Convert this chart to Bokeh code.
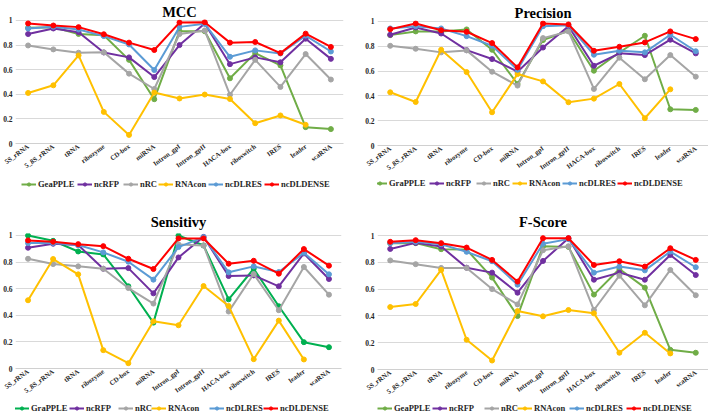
from bokeh.plotting import figure
from bokeh.models import FactorRange, Range1d, FixedTicker, Legend, LegendItem
from bokeh.layouts import column, row
from bokeh.embed import file_html
from bokeh.resources import INLINE

categories = ["5S_rRNA", "5_8S_rRNA", "tRNA", "ribozyme", "CD-box", "miRNA",
              "Intron_gpI", "Intron_gpII", "HACA-box", "riboswitch", "IRES",
              "leader", "scaRNA"]
y_ticks = [0, 0.2, 0.4, 0.6, 0.8, 1]
y_tick_labels = ["0", "0.2", "0.4", "0.6", "0.8", "1"]

# ---- MCC ----
mcc_names = ["GeaPPLE", "ncRFP", "nRC", "RNAcon", "ncDLRES", "ncDLDENSE"]
mcc_geapple = [0.94, 0.945, 0.89, 0.88, 0.68, 0.36, 0.913, 0.913, 0.53, 0.735, 0.635, 0.133, 0.117]
mcc_ncrfp = [0.89, 0.935, 0.905, 0.74, 0.70, 0.54, 0.80, 0.975, 0.645, 0.70, 0.66, 0.852, 0.688]
mcc_nrc = [0.797, 0.765, 0.738, 0.741, 0.568, 0.443, 0.89, 0.919, 0.396, 0.68, 0.46, 0.727, 0.52]
mcc_rnacon = [0.411, 0.473, 0.716, 0.257, 0.07, 0.414, 0.366, 0.398, 0.362, 0.165, 0.228, 0.152]
mcc_ncdlres = [0.935, 0.949, 0.927, 0.873, 0.805, 0.597, 0.948, 0.973, 0.705, 0.757, 0.732, 0.877, 0.748]
mcc_ncdldense = [0.976, 0.959, 0.946, 0.888, 0.82, 0.76, 0.983, 0.986, 0.82, 0.825, 0.735, 0.893, 0.785]

# ---- Precision ----
prec_names = ["GraPPLE", "ncRFP", "nRC", "RNAcon", "ncDLRES", "ncDLDENSE"]
prec_grapple = [0.89, 0.92, 0.92, 0.936, 0.772, 0.496, 0.85, 0.925, 0.603, 0.75, 0.885, 0.292, 0.287]
prec_ncrfp = [0.893, 0.952, 0.903, 0.769, 0.697, 0.595, 0.79, 0.962, 0.643, 0.743, 0.729, 0.853, 0.743]
prec_nrc = [0.804, 0.78, 0.751, 0.767, 0.595, 0.483, 0.866, 0.92, 0.456, 0.708, 0.534, 0.729, 0.555]
prec_rnacon = [0.429, 0.351, 0.772, 0.592, 0.268, 0.576, 0.517, 0.349, 0.378, 0.496, 0.22, 0.453]
prec_ncdlres = [0.944, 0.962, 0.944, 0.882, 0.804, 0.61, 0.962, 0.97, 0.732, 0.764, 0.751, 0.893, 0.76]
prec_ncdldense = [0.938, 0.984, 0.93, 0.917, 0.826, 0.63, 0.984, 0.976, 0.764, 0.796, 0.831, 0.92, 0.858]

# ---- Sensitivity ----
sens_names = ["GraPPLE", "ncRFP", "nRC", "RNAcon", "ncDLRES", "ncDLDENSE"]
sens_grapple = [1.0, 0.96, 0.88, 0.858, 0.618, 0.345, 1.0, 0.925, 0.52, 0.75, 0.468, 0.198, 0.16]
sens_ncrfp = [0.908, 0.938, 0.928, 0.75, 0.755, 0.565, 0.835, 0.99, 0.695, 0.70, 0.618, 0.865, 0.673]
sens_nrc = [0.825, 0.785, 0.768, 0.75, 0.605, 0.488, 0.933, 0.925, 0.428, 0.71, 0.438, 0.763, 0.555]
sens_rnacon = [0.513, 0.823, 0.708, 0.138, 0.04, 0.355, 0.325, 0.62, 0.47, 0.07, 0.36, 0.068]
sens_ncdlres = [0.943, 0.943, 0.928, 0.873, 0.803, 0.668, 0.913, 0.988, 0.723, 0.768, 0.725, 0.87, 0.708]
sens_ncdldense = [0.963, 0.953, 0.935, 0.92, 0.825, 0.748, 0.978, 0.978, 0.788, 0.81, 0.713, 0.898, 0.773]

# ---- F-Score ----
fs_names = ["GeaPPLE", "ncRFP", "nRC", "RNAcon", "ncDLRES", "ncDLDENSE"]
fs_geapple = [0.943, 0.943, 0.898, 0.895, 0.686, 0.399, 0.92, 0.915, 0.559, 0.75, 0.611, 0.147, 0.125]
fs_ncrfp = [0.90, 0.945, 0.918, 0.76, 0.723, 0.573, 0.81, 0.98, 0.67, 0.723, 0.67, 0.855, 0.705]
fs_nrc = [0.814, 0.786, 0.758, 0.758, 0.60, 0.486, 0.89, 0.92, 0.444, 0.70, 0.479, 0.743, 0.554]
fs_rnacon = [0.466, 0.489, 0.743, 0.222, 0.067, 0.436, 0.397, 0.444, 0.419, 0.125, 0.274, 0.12]
fs_ncdlres = [0.943, 0.953, 0.935, 0.878, 0.808, 0.633, 0.938, 0.973, 0.723, 0.768, 0.74, 0.88, 0.763]
fs_ncdldense = [0.953, 0.965, 0.943, 0.91, 0.818, 0.656, 0.98, 0.98, 0.78, 0.808, 0.768, 0.905, 0.818]

colors_std = ["#70AD47", "#7030A0", "#A5A5A5", "#FFC000", "#5B9BD5", "#FF0000"]
colors_sens = ["#00B050", "#7030A0", "#A5A5A5", "#FFC000", "#5B9BD5", "#FF0000"]

FONT = "Liberation Serif"
TXT = "#262626"
W = 354


def make_panel(title, names, series, colors, main_h, top, bottom, left, right,
               y_end, title_standoff, strip_h, leg_x, leg_center):
    p = figure(width=W, height=main_h, x_range=FactorRange(*categories, range_padding=0),
               y_range=Range1d(0, y_end), output_backend="svg", toolbar_location=None,
               min_border_top=top, min_border_bottom=bottom,
               min_border_left=left, min_border_right=right,
               background_fill_color="white", border_fill_color="white")
    p.outline_line_color = None
    p.title.text = title
    p.title.align = "center"
    p.title.text_font = FONT
    p.title.text_font_style = "bold"
    p.title.text_font_size = "14.5px"
    p.title.text_color = "#000000"
    p.title.standoff = title_standoff
    p.title.offset = 0

    p.xgrid.grid_line_color = None
    p.ygrid.grid_line_color = "#D9D9D9"
    p.ygrid.grid_line_width = 1
    p.ygrid.ticker = FixedTicker(ticks=y_ticks)

    ya = p.yaxis[0]
    ya.ticker = FixedTicker(ticks=y_ticks)
    ya.major_label_overrides = {t: s for t, s in zip(y_ticks, y_tick_labels)}
    ya.axis_line_color = None
    ya.major_tick_line_color = None
    ya.minor_tick_line_color = None
    ya.major_tick_out = 0
    ya.major_tick_in = 0
    ya.major_label_standoff = 3
    ya.major_label_text_font = FONT
    ya.major_label_text_font_style = "bold"
    ya.major_label_text_font_size = "7.5px"
    ya.major_label_text_color = TXT

    xa = p.xaxis[0]
    xa.axis_line_color = "#D0D0D0"
    xa.major_tick_line_color = None
    xa.major_tick_out = 0
    xa.major_tick_in = 0
    xa.major_label_standoff = 2
    xa.major_label_orientation = 0.63
    xa.major_label_text_font = FONT
    xa.major_label_text_font_style = "bold"
    xa.major_label_text_font_size = "6.8px"
    xa.major_label_text_color = TXT

    # legend strip under the chart (its copies of the series lie outside its y range)
    lg = figure(width=W, height=strip_h, x_range=FactorRange(*categories, range_padding=0),
                y_range=Range1d(5, 6), x_axis_type=None, y_axis_type=None,
                output_backend="svg", toolbar_location=None, min_border=0,
                background_fill_color="white", border_fill_color="white")
    lg.outline_line_color = None
    lg.xgrid.grid_line_color = None
    lg.ygrid.grid_line_color = None

    items = []
    for name, vals, col in zip(names, series, colors):
        cats = categories[:len(vals)]
        p.line(cats, vals, line_color=col, line_width=2)
        p.scatter(cats, vals, marker="circle", size=5, fill_color=col, line_color=col)
        lr = lg.line(cats, vals, line_color=col, line_width=2)
        sr = lg.scatter(cats, vals, marker="circle", size=5, fill_color=col, line_color=col)
        items.append(LegendItem(label=name, renderers=[lr, sr]))

    leg_h = 8
    vy = strip_h - leg_center - leg_h / 2
    for item, lx in zip(items, leg_x):
        legend = Legend(items=[item], orientation="horizontal", location=(lx - left, vy),
                        border_line_color=None, background_fill_alpha=0,
                        padding=0, margin=0, spacing=0, glyph_width=15, glyph_height=leg_h,
                        label_standoff=2, label_height=leg_h,
                        label_text_font=FONT, label_text_font_style="bold",
                        label_text_font_size="8.5px", label_text_color=TXT)
        lg.add_layout(legend)
    return column(p, lg, spacing=0)


p1 = make_panel("MCC", mcc_names,
                [mcc_geapple, mcc_ncrfp, mcc_nrc, mcc_rnacon, mcc_ncdlres, mcc_ncdldense],
                colors_std, 175, 19, 32, 14, 11, 1.008, 0, 28,
                [20, 76, 122, 157, 207, 263], 10)
p2 = make_panel("Precision", prec_names,
                [prec_grapple, prec_ncrfp, prec_nrc, prec_rnacon, prec_ncdlres, prec_ncdldense],
                colors_std, 177, 20, 32, 23, 0, 1.008, 0, 26,
                [18, 75, 122, 158, 208, 263], 7)
p3 = make_panel("Sensitivy", sens_names,
                [sens_grapple, sens_ncrfp, sens_nrc, sens_rnacon, sens_ncdlres, sens_ncdldense],
                colors_sens, 197, 30, 32, 14, 13, 1.015, 7, 17,
                [13, 68, 117, 150, 208, 262], 9)
p4 = make_panel("F-Score", fs_names,
                [fs_geapple, fs_ncrfp, fs_nrc, fs_rnacon, fs_ncdlres, fs_ncdldense],
                colors_std, 198, 30, 32, 23, 0, 1.015, 7, 16,
                [23, 78, 130, 163, 215, 272], 8)

layout = column(row(p1, p2, spacing=0), row(p3, p4, spacing=0), spacing=0)
open("out.html", "w").write(file_html(layout, INLINE))
